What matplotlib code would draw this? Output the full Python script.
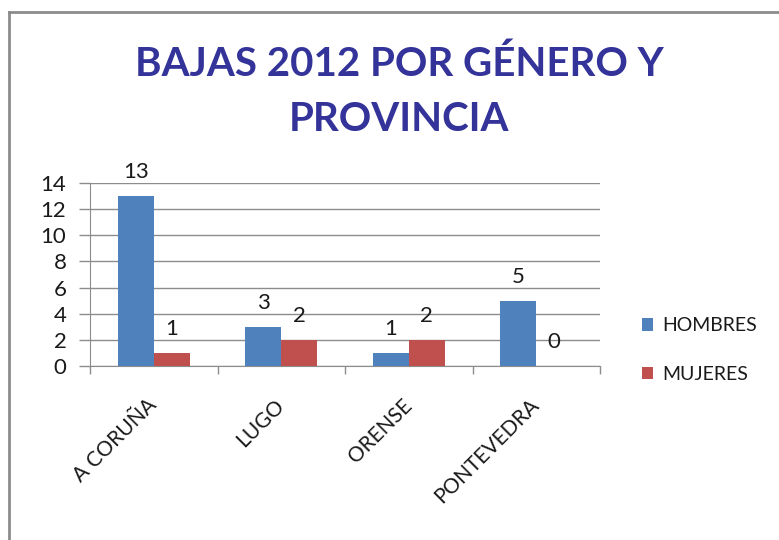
import matplotlib
matplotlib.use("Agg")
import matplotlib.pyplot as plt
from matplotlib.lines import Line2D
import numpy as np

categories = ["A CORUÑA", "LUGO", "ORENSE", "PONTEVEDRA"]
hombres = [13, 3, 1, 5]
mujeres = [1, 2, 2, 0]
series_names = ["HOMBRES", "MUJERES"]
yticks = [0, 2, 4, 6, 8, 10, 12, 14]
title = "BAJAS 2012 POR GÉNERO Y\nPROVINCIA"

plt.rcParams['font.family'] = ['Lato', 'DejaVu Sans']

W, H = 779, 540
fig = plt.figure(figsize=(W / 100, H / 100), dpi=100)
fig.patch.set_facecolor("white")

# outer chart border (left and top)
fig.add_artist(Line2D([9 / W, 9 / W], [0, 1 - 12 / H], transform=fig.transFigure,
                      color="#8c8c8c", lw=2))
fig.add_artist(Line2D([9 / W, 1], [1 - 12 / H, 1 - 12 / H], transform=fig.transFigure,
                      color="#8c8c8c", lw=2))

ax = fig.add_axes([90 / W, 1 - 366 / H, (600 - 90) / W, (366 - 183) / H])
x = np.arange(len(categories))
bw = 0.283
b1 = ax.bar(x - bw / 2, hombres, bw, color="#4F81BD", label=series_names[0], zorder=3)
b2 = ax.bar(x + bw / 2, mujeres, bw, color="#C0504D", label=series_names[1], zorder=3)
ax.bar_label(b1, padding=10, fontsize=16, color="#1a1a1a")
ax.bar_label(b2, padding=10, fontsize=16, color="#1a1a1a")

ax.set_xlim(-0.5, len(categories) - 0.5)
ax.set_ylim(0, 14)
ax.set_yticks(yticks)
ax.set_yticklabels([str(v) for v in yticks], fontsize=16, color="#1a1a1a")
ax.yaxis.grid(True, color="#8c8c8c", lw=1, zorder=0)
ax.tick_params(axis="y", length=8, color="#8c8c8c", width=1, pad=9)

ax.set_xticks(x)
ax.set_xticklabels(categories, rotation=45, ha="right", va="center",
                   rotation_mode="anchor", fontsize=15, color="#1a1a1a")
ax.tick_params(axis="x", length=0, pad=26)
# boundary ticks
ax.set_xticks(np.arange(len(categories) + 1) - 0.5, minor=True)
ax.tick_params(axis="x", which="minor", length=6, color="#8c8c8c", width=1)

for s in ["top", "right"]:
    ax.spines[s].set_visible(False)
ax.spines["left"].set_color("#8c8c8c")
ax.spines["bottom"].set_color("#8c8c8c")

fig.text(399 / W, 1 - 92 / H, title, ha="center", va="center", fontsize=29,
         fontweight="bold", color="#333399", linespacing=1.6)

leg = fig.legend(handles=[b1, b2], loc="center left",
                 bbox_to_anchor=(624 / W, 1 - 350 / H), frameon=False,
                 fontsize=14, handlelength=0.6, handleheight=0.6,
                 handletextpad=0.45, labelspacing=1.6)
for t in leg.get_texts():
    t.set_color("#1a1a1a")

fig.savefig("out.png", dpi=100)
